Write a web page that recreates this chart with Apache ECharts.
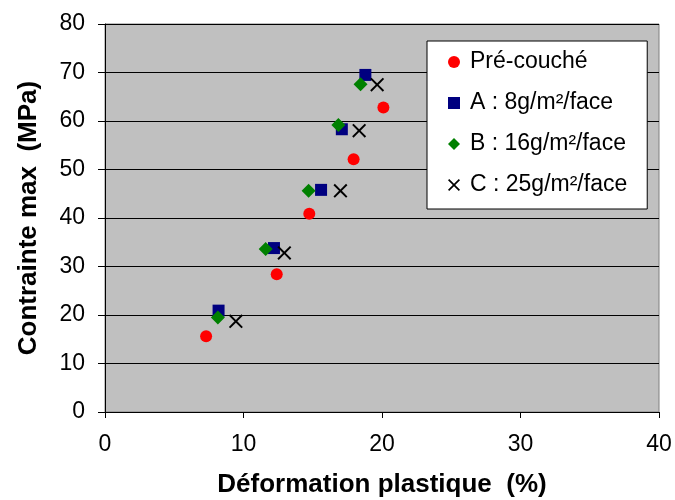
<!DOCTYPE html>
<html>
<head>
<meta charset="utf-8">
<script src="https://cdn.jsdelivr.net/npm/echarts@6/dist/echarts.min.js"></script>
<style>html,body{margin:0;padding:0;background:#fff}#c{width:675px;height:500px}</style>
</head>
<body>
<div id="c"></div>
<script>
const seriesNames = ["Pré-couché", "A : 8g/m²/face", "B : 16g/m²/face", "C : 25g/m²/face"];
const preX = [7.3, 12.4, 14.75, 17.95, 20.1];
const preY = [15.6, 28.4, 40.9, 52.1, 62.8];
const aX = [8.2, 12.2, 15.6, 17.1, 18.8];
const aY = [20.9, 33.8, 45.8, 58.3, 69.5];
const bX = [8.15, 11.6, 14.7, 16.85, 18.45];
const bY = [19.5, 33.6, 45.6, 59.2, 67.6];
const cX = [9.45, 12.95, 17.0, 18.35, 19.65];
const cY = [18.7, 32.8, 45.6, 58.0, 67.5];
const xTicks = [0, 10, 20, 30, 40];
const yTicks = [0, 10, 20, 30, 40, 50, 60, 70, 80];

const FONT = "'Liberation Sans', Arial, sans-serif";
const crossPath = 'path://M0,10L10,0L50,40L90,0L100,10L60,50L100,90L90,100L50,60L10,100L0,90L40,50Z';
const pairs = (xs, ys) => xs.map((x, i) => [x, ys[i]]);

const chart = echarts.init(document.getElementById('c'), null, {renderer: 'canvas'});
chart.setOption({
  backgroundColor: '#ffffff',
  animation: false,
  grid: {
    left: 105, top: 24, right: 16, bottom: 88,
    outerBoundsMode: 'none', containLabel: false,
    show: true, backgroundColor: '#C0C0C0', borderColor: '#808080', borderWidth: 1
  },
  legend: {
    orient: 'vertical',
    left: 427, top: 41,
    backgroundColor: '#ffffff',
    borderColor: '#000000', borderWidth: 1,
    padding: [9, 20, 12, 21],
    itemWidth: 12, itemHeight: 12,
    itemGap: 17,
    textStyle: {fontFamily: FONT, fontSize: 23, color: '#000', lineHeight: 24, padding: [0, 0, 0, 5]},
    data: [
      {name: seriesNames[0], icon: 'circle', itemStyle: {color: '#FF0000'}},
      {name: seriesNames[1], icon: 'rect', itemStyle: {color: '#000080'}},
      {name: seriesNames[2], icon: 'diamond', itemStyle: {color: '#008000'}},
      {name: seriesNames[3], icon: crossPath, itemStyle: {color: '#000000'}}
    ]
  },
  xAxis: {
    type: 'value', min: xTicks[0], max: xTicks[xTicks.length - 1], interval: 10,
    name: 'Déformation plastique  (%)', nameLocation: 'middle', nameGap: 60,
    nameTextStyle: {fontFamily: FONT, fontSize: 26, fontWeight: 'bold', color: '#000'},
    axisLine: {show: true, onZero: false, lineStyle: {color: '#000', width: 1}},
    axisTick: {show: true, inside: false, length: 6, lineStyle: {color: '#000'}},
    axisLabel: {fontFamily: FONT, fontSize: 23, color: '#000', margin: 21},
    splitLine: {show: false}
  },
  yAxis: {
    type: 'value', min: yTicks[0], max: yTicks[yTicks.length - 1], interval: 10,
    name: 'Contrainte max  (MPa)', nameLocation: 'middle', nameGap: 63,
    nameTextStyle: {fontFamily: FONT, fontSize: 26, fontWeight: 'bold', color: '#000'},
    axisLine: {show: true, onZero: false, lineStyle: {color: '#000', width: 1}},
    axisTick: {show: true, inside: false, length: 7, lineStyle: {color: '#000'}},
    axisLabel: {fontFamily: FONT, fontSize: 23, color: '#000', margin: 20},
    splitLine: {show: true, lineStyle: {color: '#000', width: 1}}
  },
  series: [
    {name: seriesNames[0], type: 'scatter', symbol: 'circle', symbolSize: 12,
     itemStyle: {color: '#FF0000', opacity: 1}, data: pairs(preX, preY), z: 2},
    {name: seriesNames[1], type: 'scatter', symbol: 'rect', symbolSize: 12,
     itemStyle: {color: '#000080', opacity: 1}, data: pairs(aX, aY), z: 3},
    {name: seriesNames[2], type: 'scatter', symbol: 'diamond', symbolSize: 14,
     itemStyle: {color: '#008000', opacity: 1}, data: pairs(bX, bY), z: 4},
    {name: seriesNames[3], type: 'scatter', symbol: crossPath, symbolSize: 14,
     itemStyle: {color: '#000000', opacity: 1}, data: pairs(cX, cY), z: 5}
  ]
});
</script>
</body>
</html>
